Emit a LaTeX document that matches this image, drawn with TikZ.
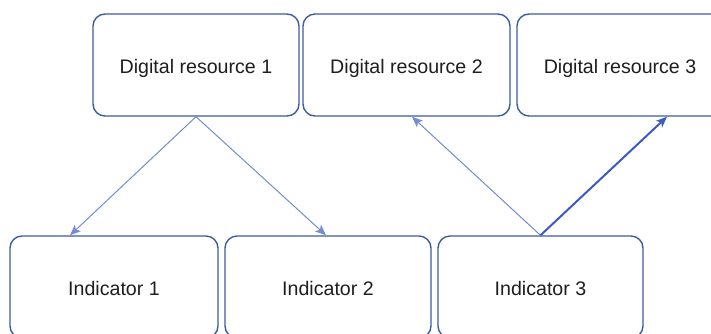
\documentclass[tikz,border=0pt]{standalone}
\usepackage{fontspec}
\setmainfont{Liberation Sans}
\usetikzlibrary{arrows.meta,calc}
\definecolor{boxline}{RGB}{62,92,160}
\definecolor{thinarrow}{RGB}{115,140,210}
\definecolor{thickarrow}{RGB}{60,90,195}
\definecolor{txt}{RGB}{30,30,30}
\tikzset{
  box/.style={draw=boxline, line width=1.4pt, rounded corners=12pt, fill=white,
    minimum width=206pt, minimum height=102pt, inner sep=0pt,
    text height=20.5pt, text depth=4pt,
    font=\fontsize{19.6}{23}\selectfont, text=txt},
  thinlink/.style={draw=thinarrow, line width=1pt,
    -{Stealth[length=11pt,width=9pt,inset=3pt]}},
  thicklink/.style={draw=thickarrow, line width=2pt,
    -{Stealth[length=11pt,width=9pt,inset=3pt]}}
}
\begin{document}
\begin{tikzpicture}[x=1pt,y=-1pt]
\useasboundingbox (0,0) rectangle (711,333);
\node[box] (dr1) at (196,65) {Digital resource 1};
\node[box, minimum width=207pt] (dr2) at (406.5,65) {Digital resource 2};
\node[box] (dr3) at (620,65) {Digital resource 3};
\node[box, minimum width=208pt] (ind1) at (114,287) {Indicator 1};
\node[box] (ind2) at (328,287) {Indicator 2};
\node[box, minimum width=205pt] (ind3) at (540.5,287) {Indicator 3};
\draw[thinlink] (dr1.south) -- ($(ind1.north)+(-44,0)$);
\draw[thinlink] (dr1.south) -- ($(ind2.north)+(-2,0)$);
\draw[thinlink] (ind3.north) -- ($(dr2.south)+(5.5,0)$);
\draw[thicklink] (ind3.north) -- ($(dr3.south)+(47,0)$);
\end{tikzpicture}
\end{document}
